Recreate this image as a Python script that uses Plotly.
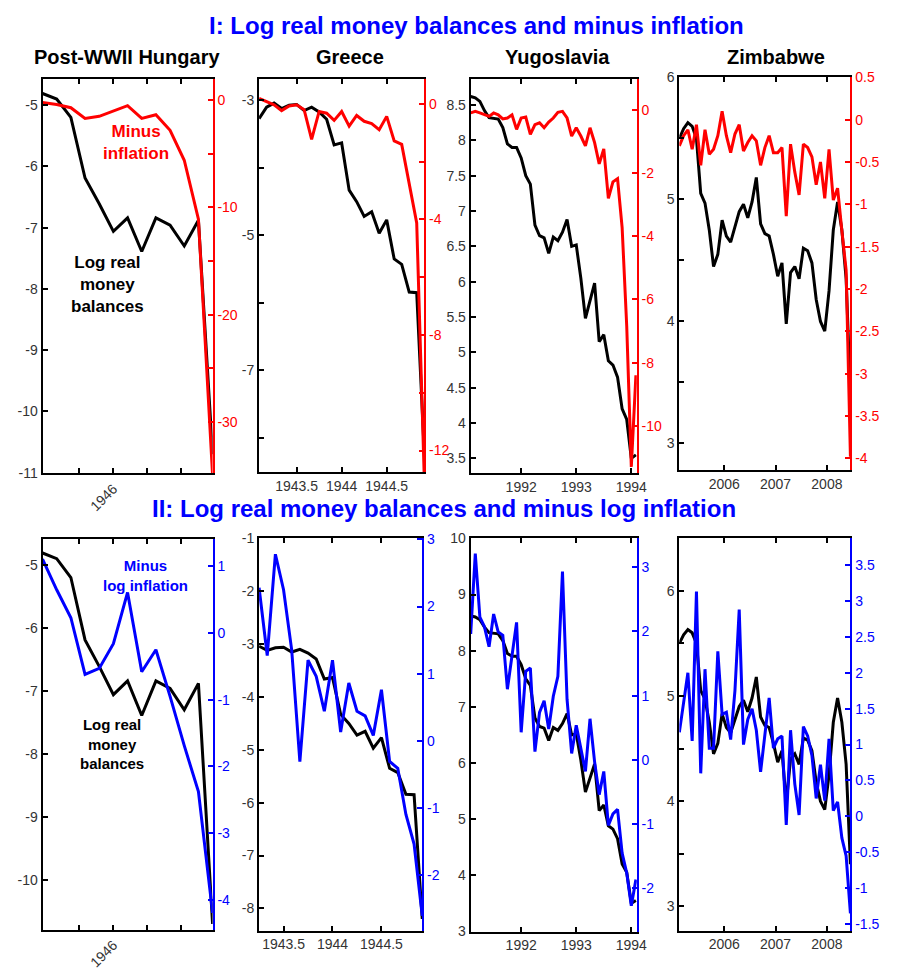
import plotly.graph_objects as go

W, H = 897, 973
FONT = "Liberation Sans, Arial, sans-serif"
BLACK = "#000000"
RED = "#ff0000"
BLUE = "#0000ff"
TICK_GRAY = "#333333"


def monthly(start, n):
    """Monthly observation dates as decimal years."""
    return [start + k / 12 for k in range(n)]


# ---------------- data ----------------
# Post-WWII Hungary (Aug 1945 - Aug 1946)
hun_dates = monthly(1945 + 7 / 12, 13)
hun_log_money = [-4.81, -4.90, -5.20, -6.19, -6.61, -7.06, -6.84, -7.39, -6.84, -6.96, -7.30, -6.88, -10.70]
hun_minus_infl = [-0.2, -0.4, -0.7, -1.7, -1.5, -1.0, -0.5, -1.7, -1.35, -2.8, -5.6, -11.1, -35.0]
hun_minus_log_infl = [1.11, 0.65, 0.23, -0.62, -0.53, -0.16, 0.61, -0.58, -0.25, -0.95, -1.69, -2.38, -4.20]

# Greece (Feb 1943 - Dec 1944)
gre_dates = monthly(1943 + 1 / 12, 23)
gre_log_money = [-3.27, -3.10, -3.04, -3.12, -3.07, -3.06, -3.15, -3.10, -3.17, -3.28, -3.66, -3.63,
                 -4.33, -4.50, -4.72, -4.65, -4.97, -4.77, -5.35, -5.43, -5.84, -5.85, -8.20]
gre_minus_infl = [0.19, 0.08, -0.03, -0.23, -0.07, -0.03, -0.20, -1.23, -0.26, -0.32, -0.57, -0.26,
                  -0.77, -0.40, -0.60, -0.68, -0.89, -0.43, -1.28, -1.40, -2.70, -4.12, -12.9]
gre_log_dates = gre_dates[2:]
gre_log_money_ii = gre_log_money[2:]
gre_minus_log_infl = [2.28, 1.27, 2.78, 2.25, 1.35, -0.31, 1.20, 0.96, 0.44, 1.20, 0.13,
                      0.86, 0.44, 0.37, 0.08, 0.76, -0.31, -0.41, -1.10, -1.54, -2.61]

# Yugoslavia (Feb 1991 - Feb 1994)
yug_dates = monthly(1991 + 1 / 12, 37)
yug_log_money = [8.62, 8.60, 8.55, 8.42, 8.32, 8.31, 8.30, 8.18, 7.95, 7.90, 7.90, 7.75, 7.50,
                 7.38, 6.80, 6.65, 6.62, 6.40, 6.63, 6.58, 6.70, 6.88, 6.50, 6.52, 6.05, 5.48,
                 5.75, 5.98, 5.15, 5.25, 4.88, 4.82, 4.65, 4.20, 4.05, 3.50, 3.55]
yug_minus_infl = [-0.10, -0.05, -0.10, -0.16, -0.21, -0.10, -0.16, -0.29, -0.26, -0.16, -0.62,
                  -0.26, -0.23, -0.78, -0.47, -0.41, -0.57, -0.39, -0.26, -0.08, -0.05, -0.26,
                  -0.83, -0.57, -0.83, -1.14, -0.57, -1.04, -1.71, -1.24, -2.80, -2.28, -2.18,
                  -3.73, -6.84, -11.3, -8.4]
yug_minus_log_infl = [1.96, 3.21, 2.22, 2.07, 1.76, 2.27, 1.99, 1.94, 1.10, 1.66, 2.14, 0.43,
                      1.38, 1.43, 0.13, 0.74, 0.92, 0.48, 0.99, 1.30, 2.93, 0.94, 0.10, 0.54,
                      0.18, -0.18, 0.64, -0.03, -0.54, -0.18, -1.02, -0.84, -0.77, -1.45, -1.76,
                      -2.27, -1.86]

# Zimbabwe (Feb 2005 - Jun 2008)
zim_dates = monthly(2005 + 1.5 / 12, 41)
zim_log_money = [5.50, 5.58, 5.63, 5.60, 5.50, 5.05, 4.97, 4.75, 4.45, 4.55, 4.83, 4.70, 4.65,
                 4.78, 4.90, 4.96, 4.85, 4.98, 5.18, 4.80, 4.72, 4.70, 4.55, 4.37, 4.48, 3.98,
                 4.40, 4.45, 4.35, 4.60, 4.58, 4.48, 4.18, 4.00, 3.92, 4.25, 4.75, 4.98, 4.75,
                 4.35, 3.40]
zim_minus_infl = [-0.31, -0.19, -0.12, -0.35, -0.06, -0.54, -0.12, -0.41, -0.35, -0.19, 0.10,
                  -0.19, -0.39, -0.17, -0.06, -0.37, -0.27, -0.19, -0.25, -0.54, -0.33, -0.19,
                  -0.39, -0.39, -0.33, -1.14, -0.29, -0.62, -0.89, -0.29, -0.33, -0.44, -0.77,
                  -0.50, -0.93, -0.35, -0.95, -0.81, -1.31, -1.78, -3.98]
zim_minus_log_infl = [1.17, 1.60, 2.00, 1.05, 3.13, 0.60, 2.05, 0.95, 0.95, 2.30, 1.42, 1.45,
                      1.07, 1.75, 2.88, 1.00, 1.35, 1.50, 1.20, 0.62, 1.15, 1.65, 0.95, 1.08,
                      1.12, -0.12, 1.20, 0.45, 0.02, 1.25, 1.12, 0.85, 0.25, 0.72, 0.22, 1.08,
                      0.08, 0.20, -0.30, -0.55, -1.35]

# tick labels
hun_xticks = [1945.8, 1946.0, 1946.2, 1946.4]
hun_xlabels = ["", "1946", "", ""]
gre_xticks = [1943.5, 1944.0, 1944.5]
gre_xlabels = ["1943.5", "1944", "1944.5"]
yug_xticks = [1992, 1993, 1994]
yug_xlabels = ["1992", "1993", "1994"]
zim_xticks = [2006, 2007, 2008]
zim_xlabels = ["2006", "2007", "2008"]


def steps(lo, hi, step):
    n = int(round((hi - lo) / step))
    return [round(lo + i * step, 6) for i in range(n + 1)]


def fmt(v):
    return ("%g" % v)


def labels(vals, every=None):
    out = []
    for v in vals:
        if every is None or abs(v / every - round(v / every)) < 1e-6:
            out.append(fmt(v))
        else:
            out.append("")
    return out


# ---------------- panel layout (pixel boxes: left, right, top, bottom) ----------------
panels = [
    dict(box=(43, 215, 72, 473), x=hun_dates, xr=[hun_dates[0], hun_dates[-1]],
         xt=hun_xticks, xl=hun_xlabels, xangle=-45,
         left=hun_log_money, lr=[-11.01, -4.57], lt=steps(-11, -5, 1), ll_every=None,
         rx=hun_dates, right=hun_minus_infl, rr=[-34.8, 2.0], rt=steps(-30, 0, 5), rl_every=10,
         color=RED),
    dict(box=(262, 429, 72, 472), x=gre_dates, xr=[gre_dates[0], gre_dates[-1]],
         xt=gre_xticks, xl=gre_xlabels, xangle=0,
         left=gre_log_money, lr=[-8.51, -2.68], lt=steps(-8, -3, 1), ll_every="odd",
         rx=gre_dates, right=gre_minus_infl, rr=[-12.75, 0.87], rt=steps(-12, 0, 2), rl_every=4,
         color=RED),
    dict(box=(476, 644, 72, 473), x=yug_dates, xr=[yug_dates[0], 1994.1],
         xt=yug_xticks, xl=yug_xlabels, xangle=0,
         left=yug_log_money, lr=[3.29, 8.87], lt=steps(3.5, 8.5, 0.5), ll_every=None,
         rx=yug_dates, right=yug_minus_infl, rr=[-11.5, 0.98], rt=steps(-10, 0, 2), rl_every=None,
         color=RED),
    dict(box=(687, 860, 70, 470), x=zim_dates, xr=[zim_dates[0], zim_dates[-1]],
         xt=zim_xticks, xl=zim_xlabels, xangle=0,
         left=zim_log_money, lr=[2.78, 6.005], lt=steps(3, 6, 0.5), ll_every=1,
         rx=zim_dates, right=zim_minus_infl, rr=[-4.14, 0.505], rt=steps(-4, 0.5, 0.5), rl_every=None,
         color=RED),
    dict(box=(43, 215, 540, 937), x=hun_dates, xr=[hun_dates[0], hun_dates[-1]],
         xt=hun_xticks, xl=hun_xlabels, xangle=-45,
         left=hun_log_money, lr=[-10.79, -4.59], lt=steps(-10, -5, 1), ll_every=None,
         rx=hun_dates, right=hun_minus_log_infl, rr=[-4.45, 1.41], rt=steps(-4, 1, 1), rl_every=None,
         color=BLUE),
    dict(box=(262, 427, 539, 938), x=gre_log_dates, xr=[gre_log_dates[0], gre_log_dates[-1]],
         xt=gre_xticks, xl=gre_xlabels, xangle=0,
         left=gre_log_money_ii, lr=[-8.42, -0.995], lt=steps(-8, -1, 1), ll_every=None,
         rx=gre_log_dates, right=gre_minus_log_infl, rr=[-2.83, 3.02], rt=steps(-2, 3, 1), rl_every=None,
         color=BLUE),
    dict(box=(476, 644, 539, 939), x=yug_dates, xr=[yug_dates[0], 1994.1],
         xt=yug_xticks, xl=yug_xlabels, xangle=0,
         left=yug_log_money, lr=[2.995, 10.005], lt=steps(3, 10, 1), ll_every=None,
         rx=yug_dates, right=yug_minus_log_infl, rr=[-2.67, 3.45], rt=steps(-2, 3, 1), rl_every=None,
         color=BLUE),
    dict(box=(687, 860, 539, 938), x=zim_dates, xr=[zim_dates[0], zim_dates[-1]],
         xt=zim_xticks, xl=zim_xlabels, xangle=0,
         left=zim_log_money, lr=[2.77, 6.5], lt=steps(3, 6.5, 0.5), ll_every=1,
         rx=zim_dates, right=zim_minus_log_infl, rr=[-1.59, 3.875], rt=steps(-1.5, 3.5, 0.5), rl_every=None,
         color=BLUE),
]


def px_x(v):
    return v / W


def px_y(v):
    return 1 - v / H


fig = go.Figure()
layout = dict(
    width=W, height=H, autosize=False,
    margin=dict(l=0, r=0, t=0, b=0),
    paper_bgcolor="white", plot_bgcolor="white",
    showlegend=False,
    font=dict(family=FONT, size=14, color=TICK_GRAY),
)

for k, p in enumerate(panels):
    xi = k + 1
    yl = 2 * k + 1
    yr = 2 * k + 2
    xname = "x" if xi == 1 else f"x{xi}"
    ylname = "y" if yl == 1 else f"y{yl}"
    yrname = f"y{yr}"
    xkey = "xaxis" if xi == 1 else f"xaxis{xi}"
    ylkey = "yaxis" if yl == 1 else f"yaxis{yl}"
    yrkey = f"yaxis{yr}"

    l, r, t, b = p["box"]
    xdom = [px_x(l), px_x(r)]
    ydom = [px_y(b), px_y(t)]

    if p["ll_every"] == "odd":
        left_labels = [fmt(v) if int(round(v)) % 2 != 0 else "" for v in p["lt"]]
    else:
        left_labels = labels(p["lt"], p["ll_every"])
    right_labels = labels(p["rt"], p["rl_every"])

    fig.add_trace(go.Scatter(x=p["x"], y=p["left"], mode="lines",
                             line=dict(color=BLACK, width=3),
                             xaxis=xname, yaxis=ylname, hoverinfo="skip"))
    fig.add_trace(go.Scatter(x=p["rx"], y=p["right"], mode="lines",
                             line=dict(color=p["color"], width=3),
                             xaxis=xname, yaxis=yrname, hoverinfo="skip"))

    layout[xkey] = dict(
        domain=xdom, anchor=ylname, range=p["xr"],
        showgrid=False, zeroline=False,
        showline=True, linecolor=BLACK, linewidth=2, mirror="ticks",
        ticks="inside", ticklen=5, tickwidth=2, tickcolor=BLACK,
        tickmode="array", tickvals=p["xt"], ticktext=p["xl"],
        tickangle=p["xangle"],
        tickfont=dict(family=FONT, size=14, color=TICK_GRAY),
    )
    layout[ylkey] = dict(
        domain=ydom, anchor=xname, range=p["lr"],
        showgrid=False, zeroline=False,
        showline=True, linecolor=BLACK, linewidth=2,
        ticks="inside", ticklen=5, tickwidth=2, tickcolor=BLACK,
        tickmode="array", tickvals=p["lt"], ticktext=left_labels,
        tickfont=dict(family=FONT, size=14, color=TICK_GRAY),
    )
    layout[yrkey] = dict(
        overlaying=ylname, side="right", anchor=xname, range=p["rr"],
        showgrid=False, zeroline=False,
        showline=True, linecolor=p["color"], linewidth=2,
        ticks="inside", ticklen=5, tickwidth=2, tickcolor=p["color"],
        tickmode="array", tickvals=p["rt"], ticktext=right_labels,
        tickfont=dict(family=FONT, size=14, color=p["color"]),
    )

annotations = []


def note(text, x, y, size, color, bold=True):
    annotations.append(dict(
        text=f"<b>{text}</b>" if bold else text,
        x=px_x(x), y=px_y(y), xref="paper", yref="paper",
        xanchor="center", yanchor="middle", showarrow=False,
        font=dict(family=FONT, size=size, color=color),
    ))


note("I: Log real money balances and minus inflation", 482, 18, 24, BLUE)
note("II: Log real money balances and minus log inflation", 449, 509, 24, BLUE)
note("Post-WWII Hungary", 128, 50, 20, BLACK)
note("Greece", 354, 50, 20, BLACK)
note("Yugoslavia", 564, 50, 20, BLACK)
note("Zimbabwe", 785, 50, 20, BLACK)

# series labels inside the Hungary panels
note("Minus<br>inflation", 138, 137, 17, RED)
note("Log real<br>money<br>balances", 109, 281, 17, BLACK)
note("Minus<br>log inflation", 147, 577, 15, BLUE)
note("Log real<br>money<br>balances", 113, 748, 15, BLACK)

layout["annotations"] = annotations
fig.update_layout(**layout)

fig.write_html("out.html")
